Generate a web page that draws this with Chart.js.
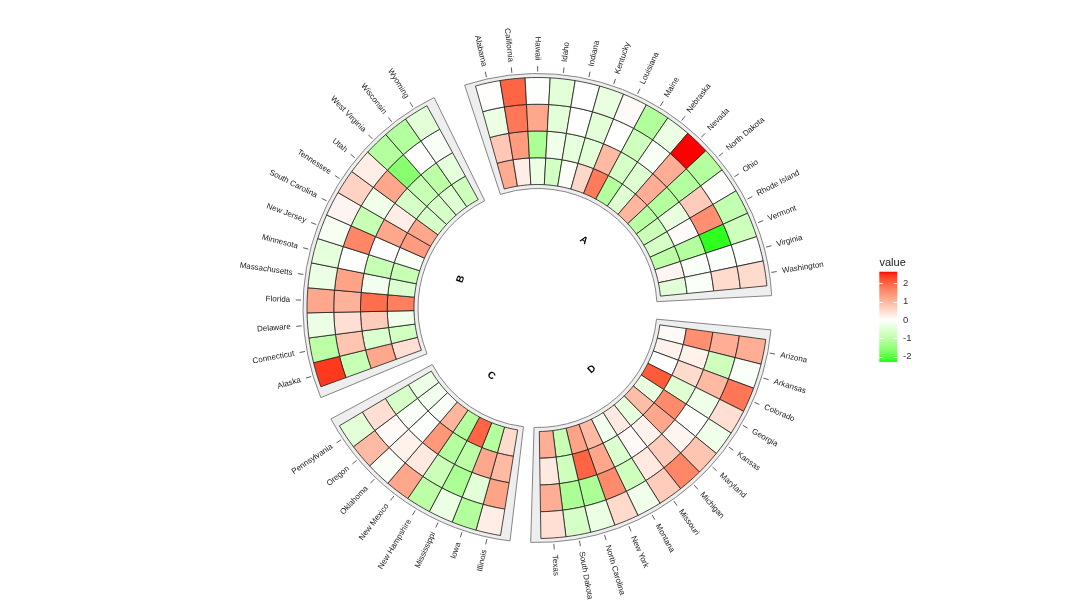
<!DOCTYPE html>
<html><head><meta charset="utf-8">
<script src="https://cdn.jsdelivr.net/npm/chart.js@4"></script>
<style>html,body{margin:0;padding:0;background:#fff;}#wrap{width:1080px;height:614px;position:relative;}</style>
</head><body><div id="wrap"><canvas id="c" width="1080" height="614"></canvas></div>
<script>
// ---- data ----
const states = ["Alabama","California","Hawaii","Idaho","Indiana","Kentucky","Louisiana","Maine","Nebraska","Nevada","North Dakota","Ohio","Rhode Island","Vermont","Virginia","Washington",
 "Arizona","Arkansas","Colorado","Georgia","Kansas","Maryland","Michigan","Missouri","Montana","New York","North Carolina","South Dakota","Texas",
 "Illinois","Iowa","Mississippi","New Hampshire","New Mexico","Oklahoma","Oregon","Pennsylvania",
 "Alaska","Connecticut","Delaware","Florida","Massachusetts","Minnesota","New Jersey","South Carolina","Tennessee","Utah","West Virginia","Wisconsin","Wyoming"];
const sectorNames = ["A","D","C","B"];
const sectorSizes = [16,13,8,13];
// outermost ring -> innermost ring
const ring1 = [0.02,2.0,-0.05,-0.45,0.0,-0.35,0.08,-1.15,-0.3,2.63,-1.1,0.02,-0.9,-0.75,-0.03,0.5,
 1.1,-0.08,1.8,0.45,-0.25,0.8,1.6,0.7,-0.25,0.5,-0.3,-0.65,0.45,
 0.25,-1.1,-0.3,-1.0,1.2,-0.1,0.95,-0.45,
 2.4,-1.0,-0.3,1.2,-0.3,-0.4,-0.15,0.15,0.6,0.25,-1.1,-1.1,-0.45];
const ring2 = [-0.3,1.8,1.2,-0.45,0.0,-0.45,0.0,-0.75,-0.12,1.1,-1.1,0.7,1.5,-2.2,-0.03,0.5,
 1.1,-0.75,0.95,-0.25,0.02,0.15,0.7,0.3,-0.75,1.55,-1.2,-1.2,1.1,
 1.25,-0.45,-1.2,-0.8,0.3,0.2,0.08,0.45,
 -0.85,0.8,0.45,1.05,1.25,0.0,1.6,-0.85,-0.25,1.2,-1.6,0.02,-0.1];
const ring3 = [0.75,1.35,-1.2,-0.25,-0.4,-0.45,0.95,-0.65,-0.5,1.1,-1.1,-0.35,0.05,-1.1,-0.08,-0.08,
 1.5,0.2,0.5,-0.5,1.55,1.2,0.2,0.08,-0.55,1.2,2.0,-0.75,0.3,
 0.95,1.2,-1.0,-1.1,1.4,-0.05,-0.1,-0.65,
 1.2,-0.55,0.7,1.9,-0.2,-0.85,0.0,1.2,0.25,-0.65,-0.85,-1.0,-0.4];
const ring4 = [1.15,0.25,-0.3,-0.7,-0.1,0.55,1.75,-1.1,-0.5,1.0,-1.05,-0.8,-0.65,-1.0,0.15,-0.45,
 0.08,0.2,0.0,2.1,-0.35,0.9,-0.4,0.3,-0.2,0.95,1.25,-0.85,1.1,
 0.5,-1.1,2.0,-1.1,1.0,-0.1,-0.2,-0.3,
 0.45,-0.7,-0.25,1.7,-0.55,-0.85,-0.1,1.35,1.2,-0.65,-0.65,-0.5,-0.75];
const colorBreaks = [-2.28, 0, 2.63];
const legendTicks = [2, 1, 0, -1, -2];

// ---- layout config ----
const sectorGaps = [2.14, 1.61, 1.72, 2.09]; // gap after each sector (in cell widths)

// ---- colour mapping (LAB interpolation green-white-red) ----
function s2l(c){c/=255;return c<=0.04045?c/12.92:Math.pow((c+0.055)/1.055,2.4);}
function l2s(c){c=c<=0.0031308?12.92*c:1.055*Math.pow(Math.max(c,0),1/2.4)-0.055;return Math.round(Math.max(0,Math.min(1,c))*255);}
function toLab(rgb){const R=s2l(rgb[0]),G=s2l(rgb[1]),B=s2l(rgb[2]);
 const X=(0.4124*R+0.3576*G+0.1805*B)/0.95047,Y=0.2126*R+0.7152*G+0.0722*B,Z=(0.0193*R+0.1192*G+0.9505*B)/1.08883;
 const f=t=>t>0.008856?Math.cbrt(t):(7.787*t+16/116);const fx=f(X),fy=f(Y),fz=f(Z);
 return [116*fy-16,500*(fx-fy),200*(fy-fz)];}
function fromLab(lab){const fy=(lab[0]+16)/116,fx=fy+lab[1]/500,fz=fy-lab[2]/200;
 const fi=t=>t*t*t>0.008856?t*t*t:(t-16/116)/7.787;const X=fi(fx)*0.95047,Y=fi(fy),Z=fi(fz)*1.08883;
 return [l2s(3.2406*X-1.5372*Y-0.4986*Z),l2s(-0.9689*X+1.8758*Y+0.0415*Z),l2s(0.0557*X-0.2040*Y+1.0570*Z)];}
const labLow=toLab([0,255,0]),labMid=toLab([255,255,255]),labHigh=toLab([255,0,0]);
function colorFor(v){
 v=Math.max(colorBreaks[0],Math.min(colorBreaks[2],v));
 let a,b,t;
 if(v<=colorBreaks[1]){a=labLow;b=labMid;t=(v-colorBreaks[0])/(colorBreaks[1]-colorBreaks[0]);}
 else{a=labMid;b=labHigh;t=(v-colorBreaks[1])/(colorBreaks[2]-colorBreaks[1]);}
 const c=fromLab([a[0]+(b[0]-a[0])*t,a[1]+(b[1]-a[1])*t,a[2]+(b[2]-a[2])*t]);
 return 'rgb('+c[0]+','+c[1]+','+c[2]+')';
}

// ---- build doughnut slots ----
const slotLabels=[],weights=[],cellIndex=[],sectorSlots=[];
let k=0;
sectorNames.forEach((s,si)=>{
 const first=weights.length;
 for(let j=0;j<sectorSizes[si];j++){slotLabels.push(states[k]);weights.push(1);cellIndex.push(k);k++;}
 sectorSlots.push([first,weights.length-1]);
 slotLabels.push('');weights.push(sectorGaps[si]);cellIndex.push(-1);
});
const rings=[ring1,ring2,ring3,ring4];
const datasets=rings.map((r,ri)=>({
 label:'V'+(ri+1),
 data:weights.slice(),
 backgroundColor:cellIndex.map(i=>i<0?'rgba(0,0,0,0)':colorFor(r[i])),
 borderColor:cellIndex.map(i=>i<0?'rgba(0,0,0,0)':'#1e1e1e'),
 borderWidth:cellIndex.map(i=>i<0?0:0.8),
 hoverOffset:0
}));

const FONT='"Liberation Sans", Arial, Helvetica, sans-serif';
const decor={
 id:'decor',
 beforeDatasetsDraw(chart){
  const ctx=chart.ctx,a=chart.getDatasetMeta(0).data;
  const cx=a[0].x,cy=a[0].y,rOut=a[0].outerRadius,rIn=chart.getDatasetMeta(3).data[0].innerRadius;
  const pad=2.5*Math.PI/180;
  ctx.save();
  sectorSlots.forEach(([f,l])=>{
   const a0=a[f].startAngle-pad,a1=a[l].endAngle+pad;
   ctx.beginPath();ctx.arc(cx,cy,rOut+4,a0,a1);ctx.arc(cx,cy,rIn-4,a1,a0,true);ctx.closePath();
   ctx.fillStyle='#eeeeee';ctx.fill();ctx.strokeStyle='#858585';ctx.lineWidth=1;ctx.stroke();
  });
  ctx.restore();
 },
 afterDatasetsDraw(chart){
  const ctx=chart.ctx,a=chart.getDatasetMeta(0).data;
  const cx=a[0].x,cy=a[0].y,rOut=a[0].outerRadius;
  ctx.save();
  ctx.font='8px '+FONT;ctx.fillStyle='#1a1a1a';ctx.strokeStyle='#333';ctx.lineWidth=0.8;
  cellIndex.forEach((si,slot)=>{
   if(si<0)return;
   const el=a[slot],m=(el.startAngle+el.endAngle)/2,cs=Math.cos(m),sn=Math.sin(m);
   ctx.beginPath();ctx.moveTo(cx+cs*(rOut+6),cy+sn*(rOut+6));ctx.lineTo(cx+cs*(rOut+11.5),cy+sn*(rOut+11.5));ctx.stroke();
   const deg=((m*180/Math.PI+90)%360+360)%360;
   const right=deg>1&&deg<=180;
   ctx.save();ctx.translate(cx+cs*(rOut+17),cy+sn*(rOut+17));ctx.rotate(right?m:m+Math.PI);
   ctx.textAlign=right?'left':'right';ctx.textBaseline='middle';ctx.fillText(states[si],0,0);ctx.restore();
  });
  // sector labels
  ctx.font='bold 10px '+FONT;ctx.fillStyle='#000';
  sectorSlots.forEach(([f,l],si)=>{
   const m=(a[f].startAngle+a[l].endAngle)/2;
   const deg=((m*180/Math.PI+90)%360+360)%360;
   const top=deg<90||deg>270;
   ctx.save();ctx.translate(cx+Math.cos(m)*82,cy+Math.sin(m)*82);
   ctx.rotate(top?(m+Math.PI/2):(m-Math.PI/2));
   ctx.textAlign='center';ctx.textBaseline='middle';ctx.fillText(sectorNames[si],0,0);ctx.restore();
  });
  // colour legend
  const lx=879.3,lw=18,unit=18.35,zeroY=320;
  const yOf=v=>zeroY-v*unit;
  const yTop=yOf(colorBreaks[2]),yBot=yOf(colorBreaks[0]);
  const g=ctx.createLinearGradient(0,yTop,0,yBot);
  for(let i=0;i<=40;i++){const v=colorBreaks[2]-(colorBreaks[2]-colorBreaks[0])*i/40;g.addColorStop(i/40,colorFor(v));}
  ctx.fillStyle=g;ctx.fillRect(lx,yTop,lw,yBot-yTop);
  ctx.strokeStyle='#fff';ctx.lineWidth=1;
  ctx.font='9.5px '+FONT;ctx.textAlign='left';ctx.textBaseline='middle';
  legendTicks.forEach(v=>{
   const y=Math.round(yOf(v))+0.5;
   ctx.beginPath();ctx.moveTo(lx,y);ctx.lineTo(lx+3.5,y);ctx.moveTo(lx+lw-3.5,y);ctx.lineTo(lx+lw,y);ctx.stroke();
   ctx.fillStyle='#333';ctx.fillText(String(v),903,yOf(v));
  });
  ctx.font='11px '+FONT;ctx.fillStyle='#1a1a1a';ctx.textBaseline='alphabetic';ctx.fillText('value',879.5,265.5);
  ctx.restore();
 }
};

new Chart(document.getElementById('c'),{
 type:'doughnut',
 data:{labels:slotLabels,datasets:datasets},
 options:{
  responsive:false,animation:false,events:[],devicePixelRatio:1,
  rotation:-15.6,circumference:360,radius:230.5,cutout:'53.58%',
  layout:{padding:{left:0,right:5,top:2,bottom:0}},
  plugins:{legend:{display:false},tooltip:{enabled:false}}
 },
 plugins:[decor]
});
</script></body></html>
